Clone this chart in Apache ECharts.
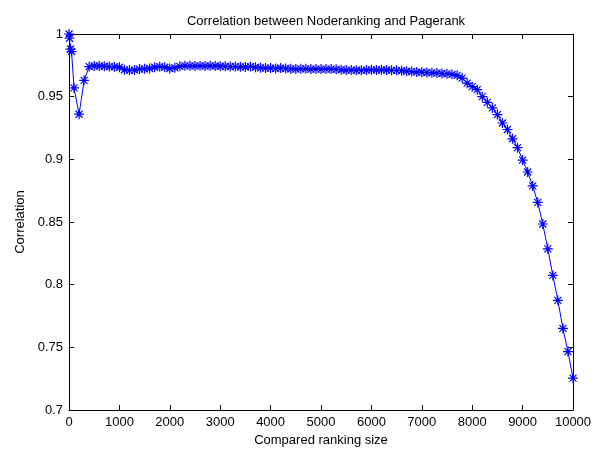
<!DOCTYPE html>
<html lang="en">
<head>
    <meta charset="utf-8" />
    <title>Correlation between Noderanking and Pagerank</title>
    <script type="text/javascript" src="https://cdn.jsdelivr.net/npm/echarts@6/dist/echarts.min.js"></script>
</head>
<body style="margin:0;background-color:#fff">
    <div id="container" style="width:602px;height:452px;"></div>
<script type="text/javascript">
    var sizes = [1, 10, 30, 50, 100, 200, 300, 400, 500, 600, 700, 800, 900, 1000,
        1100, 1200, 1300, 1400, 1500, 1600, 1700, 1800, 1900, 2000,
        2100, 2200, 2300, 2400, 2500, 2600, 2700, 2800, 2900, 3000,
        3100, 3200, 3300, 3400, 3500, 3600, 3700, 3800, 3900, 4000,
        4100, 4200, 4300, 4400, 4500, 4600, 4700, 4800, 4900, 5000,
        5100, 5200, 5300, 5400, 5500, 5600, 5700, 5800, 5900, 6000,
        6100, 6200, 6300, 6400, 6500, 6600, 6700, 6800, 6900, 7000,
        7100, 7200, 7300, 7400, 7500, 7600, 7700, 7800, 7900, 8000,
        8100, 8200, 8300, 8400, 8500, 8600, 8700, 8800, 8900, 9000,
        9100, 9200, 9300, 9400, 9500, 9600, 9700, 9800, 9900, 10000];
    var correlation = [1.0, 0.9966, 0.988, 0.986, 0.957, 0.936, 0.963, 0.974, 0.9745, 0.9745, 0.9743, 0.974, 0.9738, 0.9735,
        0.9715, 0.971, 0.9712, 0.972, 0.9722, 0.9725, 0.9735, 0.974, 0.9735, 0.9725,
        0.973, 0.9742, 0.9746, 0.9746, 0.9745, 0.9746, 0.9745, 0.9746, 0.9745, 0.9743,
        0.9742, 0.974, 0.974, 0.9738, 0.9737, 0.974, 0.9735, 0.973, 0.9728, 0.9728,
        0.9725, 0.9728, 0.9725, 0.9722, 0.972, 0.9722, 0.9722, 0.972, 0.972, 0.972,
        0.972, 0.972, 0.9718, 0.9715, 0.9712, 0.9712, 0.9711, 0.971, 0.9712, 0.9714,
        0.9713, 0.9714, 0.9713, 0.971, 0.971, 0.9707, 0.9703, 0.970, 0.9696, 0.9695,
        0.9693, 0.969, 0.9688, 0.9685, 0.9682, 0.9678, 0.967, 0.9648, 0.9608, 0.958,
        0.9556, 0.950, 0.9455, 0.941, 0.9357, 0.929, 0.9238, 0.9164, 0.9093, 0.8994,
        0.8899, 0.8788, 0.8656, 0.8484, 0.8286, 0.8074, 0.7875, 0.7651, 0.7466, 0.7254];

    var font = 'Liberation Sans, Arial, sans-serif';
    var dom = document.getElementById("container");
    var myChart = echarts.init(dom);

    var points = [];
    for (var i = 0; i < sizes.length; i++) {
        points.push([sizes[i], correlation[i]]);
    }

    // MATLAB-style box: axis lines on all four sides, ticks pointing inward
    var boxAxis = {
        axisLine: { show: true, onZero: false, lineStyle: { color: '#000', width: 1 } },
        axisTick: { show: true, inside: true, length: 5, lineStyle: { color: '#000' } },
        splitLine: { show: false }
    };

    var option = {
        backgroundColor: '#fff',
        animation: false,
        title: {
            text: 'Correlation between Noderanking and Pagerank',
            left: 321,
            top: 10,
            textAlign: 'center',
            textStyle: { fontFamily: font, fontSize: 13, fontWeight: 'normal', color: '#000' }
        },
        grid: { left: 69, right: 29, top: 34, bottom: 34 },
        xAxis: [
            Object.assign({
                type: 'value', min: 0, max: 10000, interval: 1000, position: 'bottom',
                name: 'Compared ranking size', nameLocation: 'middle', nameGap: 24,
                nameTextStyle: { fontFamily: font, fontSize: 13, color: '#000' },
                axisLabel: {
                    fontFamily: font, fontSize: 13, color: '#000', margin: 6,
                    formatter: function (v) { return String(v); }
                }
            }, boxAxis),
            Object.assign({
                type: 'value', min: 0, max: 10000, interval: 1000, position: 'top',
                axisLabel: { show: false }
            }, boxAxis)
        ],
        yAxis: [
            Object.assign({
                type: 'value', min: 0.7, max: 1, interval: 0.05, position: 'left',
                name: 'Correlation', nameLocation: 'middle', nameGap: 42,
                nameTextStyle: { fontFamily: font, fontSize: 13, color: '#000' },
                axisLabel: { fontFamily: font, fontSize: 13, color: '#000', margin: 6 }
            }, boxAxis),
            Object.assign({
                type: 'value', min: 0.7, max: 1, interval: 0.05, position: 'right',
                axisLabel: { show: false }
            }, boxAxis)
        ],
        series: [
            {
                type: 'line',
                data: points,
                symbol: 'path://M0,-5L0,5M-5,0L5,0M-3.5,-3.5L3.5,3.5M-3.5,3.5L3.5,-3.5',
                symbolSize: 10,
                showAllSymbol: true,
                lineStyle: { color: '#0000ff', width: 1 },
                itemStyle: { color: '#0000ff', borderColor: '#0000ff', borderWidth: 1.2 }
            }
        ]
    };
    myChart.setOption(option, true);
</script>
</body>
</html>
